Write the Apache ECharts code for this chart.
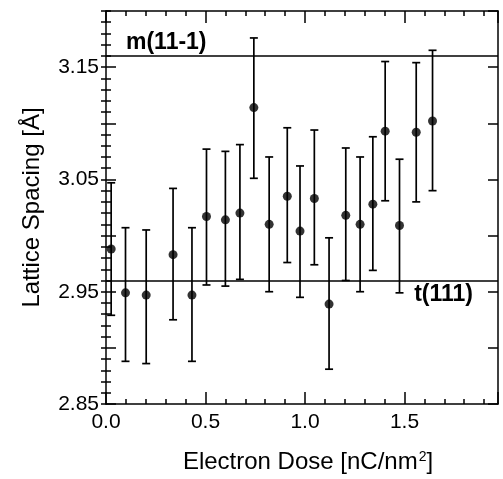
<!DOCTYPE html>
<html>
<head>
<meta charset="utf-8">
<script src="https://cdn.jsdelivr.net/npm/echarts@6/dist/echarts.min.js"></script>
<style>html,body{margin:0;padding:0;background:#fff}#c{width:503px;height:479px}</style>
</head>
<body>
<div id="c"></div>
<script>
// Electron dose [nC/nm^2]
var dose = [0.026, 0.098, 0.202, 0.337, 0.432, 0.505, 0.600, 0.673, 0.743, 0.820, 0.911,
            0.975, 1.047, 1.121, 1.205, 1.277, 1.341, 1.403, 1.475, 1.559, 1.641];
// Lattice spacing [Å]
var spacing = [2.988, 2.949, 2.947, 2.983, 2.947, 3.017, 3.014, 3.020, 3.114, 3.010, 3.035,
               3.004, 3.033, 2.939, 3.018, 3.010, 3.028, 3.093, 3.009, 3.092, 3.102];
var errLow = [2.929, 2.888, 2.886, 2.925, 2.888, 2.956, 2.955, 2.961, 3.051, 2.950, 2.976,
              2.945, 2.974, 2.881, 2.960, 2.950, 2.969, 3.031, 2.949, 3.030, 3.040];
var errHigh = [3.047, 3.007, 3.005, 3.042, 3.007, 3.077, 3.075, 3.081, 3.176, 3.070, 3.096,
               3.062, 3.094, 2.998, 3.078, 3.070, 3.088, 3.155, 3.068, 3.154, 3.165];
var refLines = [{name: 'm(11-1)', value: 3.16}, {name: 't(111)', value: 2.96}];
var xTickLabels = ['0.0', '0.5', '1.0', '1.5'];
var yTickLabels = ['2.85', '2.95', '3.05', '3.15'];

var X_MIN = 0, X_MAX = 1.97, Y_MIN = 2.85, Y_MAX = 3.20;
var FONT = '"Liberation Sans", Arial, Helvetica, sans-serif';

function xAx(opts) {
  return Object.assign({
    type: 'value', min: X_MIN, max: X_MAX, gridIndex: 0,
    axisLine: {show: true, onZero: false, lineStyle: {color: '#000', width: 1.5}},
    splitLine: {show: false},
    axisLabel: {show: false}
  }, opts);
}
function yAx(opts) {
  return Object.assign({
    type: 'value', min: Y_MIN, max: Y_MAX, gridIndex: 0,
    axisLine: {show: true, onZero: false, lineStyle: {color: '#000', width: 1.5}},
    splitLine: {show: false},
    axisLabel: {show: false}
  }, opts);
}
var majTick = function (len) { return {show: true, inside: true, length: len, lineStyle: {color: '#000', width: 1.5}}; };

var pts = dose.map(function (d, i) { return [d, spacing[i]]; });
var errs = dose.map(function (d, i) { return [d, errLow[i], errHigh[i]]; });

var chart = echarts.init(document.getElementById('c'), null, {renderer: 'canvas'});
chart.setOption({
  animation: false,
  backgroundColor: '#fff',
  grid: {left: 106, right: 5, top: 11, bottom: 71, containLabel: false},
  xAxis: [
    xAx({position: 'bottom', interval: 0.5, axisTick: majTick(12),
      axisLabel: {show: true, color: '#000', fontSize: 21, fontFamily: FONT, margin: 8,
        formatter: function (v) { var s = v.toFixed(1); return xTickLabels.indexOf(s) >= 0 && Math.abs(v * 2 - Math.round(v * 2)) < 1e-6 ? s : ''; }},
      name: 'Electron Dose [nC/nm{s|2}]', nameLocation: 'middle', nameGap: 46,
      nameTextStyle: {color: '#000', fontSize: 24, fontFamily: FONT, padding: [0, 0, 0, 12],
        rich: {s: {fontSize: 14, fontFamily: FONT, color: '#000', verticalAlign: 'top', padding: [0, 0, 10, 1]}}}}),
    xAx({position: 'bottom', interval: 0.1, axisLine: {show: false}, axisTick: majTick(5)}),
    xAx({position: 'top', interval: 0.5, axisTick: majTick(12)}),
    xAx({position: 'top', interval: 0.1, axisLine: {show: false}, axisTick: majTick(5)})
  ],
  yAxis: [
    yAx({position: 'left', interval: 0.05, axisTick: majTick(10),
      axisLabel: {show: true, color: '#000', fontSize: 21, fontFamily: FONT, margin: 7,
        showMaxLabel: false,
        formatter: function (v) { var s = v.toFixed(2); return yTickLabels.indexOf(s) >= 0 ? s : ''; }},
      name: 'Lattice Spacing [Å]', nameLocation: 'middle', nameGap: 62,
      nameTextStyle: {color: '#000', fontSize: 24, fontFamily: FONT}}),
    yAx({position: 'left', interval: 0.01, axisLine: {show: false}, axisTick: majTick(5)}),
    yAx({position: 'right', interval: 0.05, axisTick: majTick(10)}),
    yAx({position: 'right', interval: 0.01, axisLine: {show: false}, axisTick: majTick(5)})
  ],
  series: [
    {
      type: 'custom', xAxisIndex: 0, yAxisIndex: 0, data: errs, z: 3,
      renderItem: function (params, api) {
        var x = api.value(0);
        var lo = api.coord([x, api.value(1)]);
        var hi = api.coord([x, api.value(2)]);
        var cw = 4;
        var st = {stroke: '#000', lineWidth: 1.7};
        return {type: 'group', children: [
          {type: 'line', shape: {x1: lo[0], y1: lo[1], x2: hi[0], y2: hi[1]}, style: st},
          {type: 'line', shape: {x1: lo[0] - cw, y1: lo[1], x2: lo[0] + cw, y2: lo[1]}, style: st},
          {type: 'line', shape: {x1: hi[0] - cw, y1: hi[1], x2: hi[0] + cw, y2: hi[1]}, style: st}
        ]};
      }
    },
    {
      type: 'scatter', xAxisIndex: 0, yAxisIndex: 0, data: pts, symbol: 'circle', symbolSize: 9, z: 4,
      itemStyle: {color: '#000'},
      markLine: {
        silent: true, symbol: 'none', animation: false,
        lineStyle: {color: '#000', width: 1.7, type: 'solid'},
        data: [
          {yAxis: refLines[0].value, label: {show: true, position: 'insideStartTop', formatter: refLines[0].name,
            color: '#000', fontSize: 23, fontWeight: 'bold', fontFamily: FONT, distance: [20, 2]}},
          {yAxis: refLines[1].value, label: {show: true, position: 'insideEndBottom', formatter: refLines[1].name,
            color: '#000', fontSize: 23, fontWeight: 'bold', fontFamily: FONT, distance: [25, 3]}}
        ]
      }
    }
  ]
});
</script>
</body>
</html>
